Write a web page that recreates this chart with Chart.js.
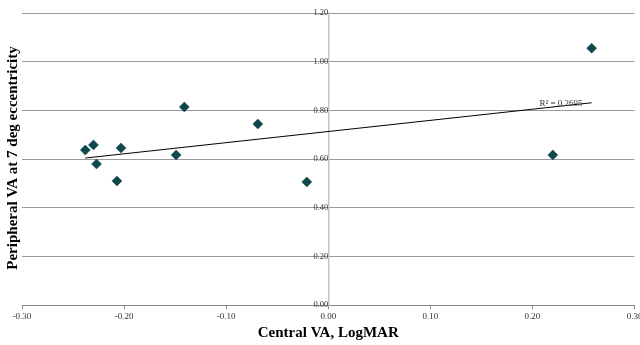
<!DOCTYPE html>
<html>
<head>
<meta charset="utf-8">
<script src="https://cdn.jsdelivr.net/npm/chart.js@4.4.1/dist/chart.umd.min.js"></script>
<style>
  html, body { margin: 0; padding: 0; background: #fff; }
  #wrap { width: 640px; height: 345px; }
</style>
</head>
<body>
<div id="wrap"><canvas id="va_chart" width="640" height="345"></canvas></div>
<script>
// values
const centralVA = [-0.238, -0.230, -0.227, -0.203, -0.207, -0.149, -0.141, -0.069, -0.021, 0.220, 0.258];
const peripheralVA = [0.637, 0.658, 0.580, 0.645, 0.510, 0.617, 0.814, 0.744, 0.506, 0.617, 1.056];
const xTitle = "Central VA, LogMAR";
const yTitle = "Peripheral VA at 7 deg eccentricity";
const rSquaredLabel = "R² = 0.2695";

const serif = "'Liberation Serif', 'DejaVu Serif', serif";
const cxt = document.getElementById("va_chart");

// least squares fit for the trend line
const fitLine = (xs, ys) => {
  const n = xs.length;
  const mx = xs.reduce((a, b) => a + b, 0) / n;
  const my = ys.reduce((a, b) => a + b, 0) / n;
  let sxy = 0, sxx = 0;
  xs.forEach((x, i) => {
    sxy += (x - mx) * (ys[i] - my);
    sxx += (x - mx) * (x - mx);
  });
  const slope = sxy / sxx;
  const b = my - slope * mx;
  const lo = Math.min(...xs), hi = Math.max(...xs);
  return [{ x: lo, y: b + slope * lo }, { x: hi, y: b + slope * hi }];
};

const points = centralVA.map((x, i) => ({ x: x, y: peripheralVA[i] }));

const labelPlugin = {
  id: "labels",
  afterDraw(chart) {
    const c = chart.ctx;
    const xs = chart.scales.x, ys = chart.scales.y;
    c.save();
    c.fillStyle = "#000";
    c.font = "bold 15px " + serif;
    c.textAlign = "center";
    c.textBaseline = "middle";
    c.translate(13, 158);
    c.rotate(-Math.PI / 2);
    c.fillText(yTitle, 0, 0);
    c.restore();

    c.save();
    c.fillStyle = "#333";
    c.font = "9px " + serif;
    c.textAlign = "center";
    c.textBaseline = "middle";
    c.fillText(rSquaredLabel, xs.getPixelForValue(0.228), ys.getPixelForValue(0.826));
    c.restore();
  },
};

new Chart(cxt, {
  type: "scatter",
  data: {
    datasets: [
      {
        label: "VA",
        data: points,
        pointStyle: "rectRot",
        pointRadius: 5,
        pointHoverRadius: 5,
        backgroundColor: "#0e474c",
        borderColor: "#0e474c",
        borderWidth: 0.5,
      },
      {
        label: "trend",
        type: "line",
        data: fitLine(centralVA, peripheralVA),
        borderColor: "#000",
        borderWidth: 1,
        pointRadius: 0,
        fill: false,
      },
    ],
  },
  options: {
    responsive: false,
    animation: false,
    layout: { padding: { left: 22, right: 4, top: 13, bottom: 0 } },
    plugins: {
      legend: { display: false },
      tooltip: { enabled: false },
    },
    scales: {
      x: {
        type: "linear",
        min: -0.3,
        max: 0.3,
        afterFit: (s) => { s.paddingLeft = 0; s.paddingRight = 0; s.height = 40; },
        ticks: {
          stepSize: 0.1,
          color: "#333",
          font: { family: serif, size: 9 },
          padding: 2,
          maxRotation: 0,
          callback: (v) => v.toFixed(2),
        },
        grid: { drawOnChartArea: false, drawTicks: true, tickLength: 4, color: "#888" },
        border: { color: "#888", width: 1 },
        title: {
          display: true,
          text: xTitle,
          color: "#000",
          font: { family: serif, size: 15, weight: "bold" },
          padding: { top: 4, bottom: 3 },
        },
      },
      y: {
        type: "linear",
        position: { x: 0 },
        min: 0,
        max: 1.2,
        ticks: {
          stepSize: 0.2,
          color: "#333",
          font: { family: serif, size: 8.5 },
          padding: 8,
          callback: (v) => v.toFixed(2),
        },
        grid: { drawTicks: false, color: "#999" },
        border: { color: "#c4c4c4", width: 1.5 },
      },
    },
  },
  plugins: [labelPlugin],
});
</script>
</body>
</html>
